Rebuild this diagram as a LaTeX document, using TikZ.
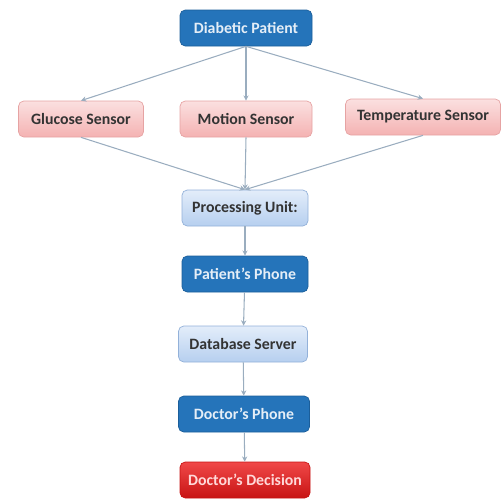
\documentclass[tikz,border=0pt]{standalone}
\usepackage{fontspec}
\setmainfont{Carlito}
\usetikzlibrary{arrows.meta}
\definecolor{darkblue}{HTML}{2574BA}
\definecolor{darkblueedge}{HTML}{1B5E9A}
\definecolor{pinktop}{HTML}{FBE0E0}
\definecolor{pinkbot}{HTML}{F4B2B2}
\definecolor{pinkedge}{HTML}{E6A3A3}
\definecolor{lbluetop}{HTML}{E3EDFA}
\definecolor{lbluebot}{HTML}{B6CFEF}
\definecolor{lblueedge}{HTML}{93B1D9}
\definecolor{redtop}{HTML}{F04848}
\definecolor{redbot}{HTML}{C81414}
\definecolor{lineclr}{HTML}{9AADBF}

\begin{document}
\begin{tikzpicture}[>={Stealth[length=3pt,width=3pt]},
    every node/.style={font=\bfseries\fontsize{9}{10}\selectfont, rounded corners=3pt, minimum height=0.72cm, inner sep=2pt},
    darkbox/.style={fill=darkblue, draw=darkblueedge, text=white!88!darkblue},
    sensorbox/.style={top color=pinktop, bottom color=pinkbot, draw=pinkedge, text=black!80},
    lightbox/.style={top color=lbluetop, bottom color=lbluebot, draw=lblueedge, text=black!80},
    redbox/.style={top color=redtop, bottom color=redbot, draw=redbot, text=white!85!red},
    link/.style={->, draw=lineclr, line width=0.6pt}]
  \useasboundingbox (0,0) rectangle (10.02,-9.98);

  \node[darkbox, minimum width=2.64cm] (DP) at (4.92,-0.56) {Diabetic Patient};
  \node[sensorbox, minimum width=2.5cm] (GS) at (1.62,-2.38) {Glucose Sensor};
  \node[sensorbox, minimum width=2.64cm] (MS) at (4.92,-2.38) {Motion Sensor};
  \node[sensorbox, minimum width=3.1cm] (TS) at (8.46,-2.34) {Temperature Sensor};
  \node[lightbox, minimum width=2.52cm] (PU) at (4.90,-4.16) {Processing Unit:};
  \node[darkbox, minimum width=2.52cm] (PP) at (4.90,-5.48) {Patient's Phone};
  \node[lightbox, minimum width=2.58cm] (DS) at (4.86,-6.88) {Database Server};
  \node[darkbox, minimum width=2.62cm] (DPh) at (4.88,-8.28) {Doctor's Phone};
  \node[redbox, minimum width=2.6cm] (DD) at (4.90,-9.60) {Doctor's Decision};

  \draw[link] (DP.south) -- (GS.north);
  \draw[link] (DP.south) -- (MS.north);
  \draw[link] (DP.south) -- (TS.north);
  \draw[link] (GS.south) -- (PU.north);
  \draw[link] (MS.south) -- (PU.north);
  \draw[link] (TS.south) -- (PU.north);
  \draw[link] (PU) -- (PP);
  \draw[link] (PP) -- (DS);
  \draw[link] (DS) -- (DPh);
  \draw[link] (DPh) -- (DD);
\end{tikzpicture}
\end{document}
